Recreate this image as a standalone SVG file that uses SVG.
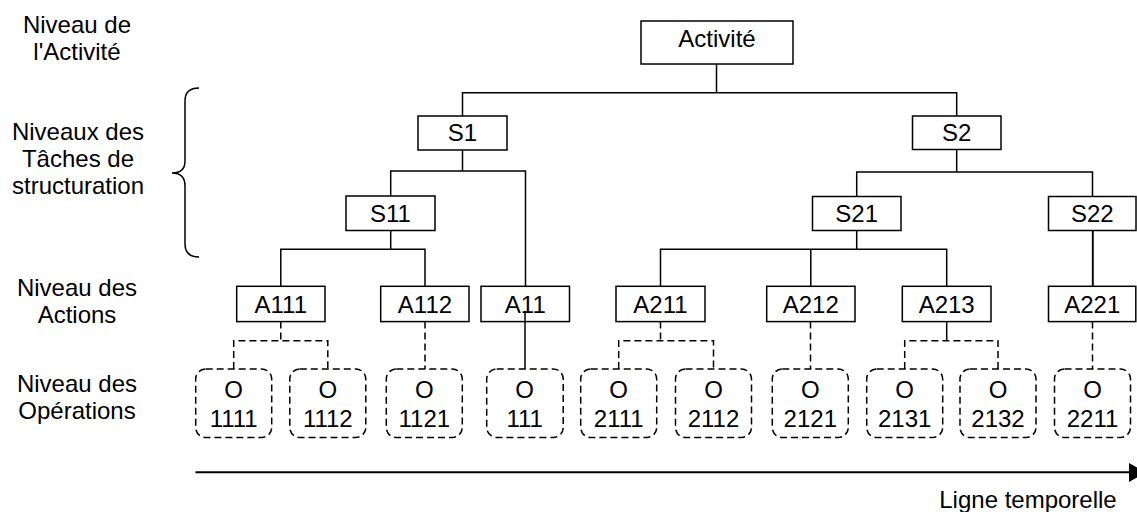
<svg xmlns="http://www.w3.org/2000/svg" width="1137" height="512" viewBox="0 0 1137 512">
<style>
text{font-family:"Liberation Sans",Arial,sans-serif;font-size:24px;fill:#000;text-anchor:middle}
.box{fill:#fff;stroke:#000;stroke-width:1.5}
.op{fill:#fff;stroke:#000;stroke-width:1.5;stroke-dasharray:7 4}
.ln{fill:none;stroke:#000;stroke-width:1.5}
.dl{fill:none;stroke:#000;stroke-width:1.5;stroke-dasharray:7 4}
</style>
<rect width="1137" height="512" fill="#fff"/>
<g id="labels">
<text x="77" y="33">Niveau de</text>
<text x="77" y="60">l'Activité</text>
<text x="78" y="140">Niveaux des</text>
<text x="78" y="167">Tâches de</text>
<text x="78" y="194">structuration</text>
<text x="77" y="296">Niveau des</text>
<text x="77" y="323">Actions</text>
<text x="77" y="392">Niveau des</text>
<text x="77" y="419">Opérations</text>
<text x="1028" y="508">Ligne temporelle</text>
<path class="ln" d="M199,88 Q185,88 185,101 L185,161 Q185,173 172,173 Q185,173 185,186 L185,244 Q185,257 199,257"/>
</g>
<g id="connectors">
<path class="ln" d="M716.5,64 V92.7 M462.5,116 V92.7 H956.7 V116"/>
<path class="ln" d="M462.5,150 V171 M390.7,196 V171 H525.5 V286.3"/>
<path class="ln" d="M956.7,149 V172 M856.7,196.5 V172 H1092.5 V196.5"/>
<path class="ln" d="M390.7,230.5 V249.3 M280.8,286.3 V249.3 H425 V286.3"/>
<path class="ln" d="M856.7,230.5 V249.3 M660.5,286.3 V249.3 H946.7 V286.3 M810.8,249.3 V286.3"/>
<path class="ln" style="stroke-width:1.9" d="M1092.8,230.5 V286.3"/>
<path class="dl" d="M280.8,321.6 V340.7 M233.7,369 V340.7 H327.8 V369"/>
<path class="dl" d="M425,321.6 V369"/>
<path class="ln" d="M525,311 V369"/>
<path class="dl" d="M660.5,321.6 V340.7 M618.7,369 V340.7 H713.5 V369"/>
<path class="dl" d="M810.5,321.6 V369"/>
<path class="ln" d="M946.7,321.6 V340.7"/>
<path class="dl" d="M904.7,369 V340.7 H998 V369"/>
<path class="dl" d="M1092.5,321.6 V369"/>
<path class="ln" style="stroke-width:1.9" d="M195.5,472.3 H1130"/>
<polygon points="1129,463 1146,472.3 1129,482" fill="#000"/>
</g>
<g id="n-activite"><rect class="box" x="641" y="21" width="152" height="43"/><text x="717" y="47">Activité</text></g>
<g id="n-s1"><rect class="box" x="418" y="116" width="89" height="34"/><text x="462.5" y="141">S1</text></g>
<g id="n-s2"><rect class="box" x="912.5" y="116" width="88.5" height="33.5"/><text x="956.7" y="141">S2</text></g>
<g id="n-s11"><rect class="box" x="346" y="196" width="89" height="34.5"/><text x="390.5" y="222">S11</text></g>
<g id="n-s21"><rect class="box" x="812.5" y="196.5" width="88.5" height="34"/><text x="856.7" y="222">S21</text></g>
<g id="n-s22"><rect class="box" x="1048.5" y="196.5" width="87.5" height="34"/><text x="1092.3" y="222">S22</text></g>
<g id="n-a111"><rect class="box" x="236.7" y="286.3" width="88.3" height="35.3"/><text x="280.8" y="313">A111</text></g>
<g id="n-a112"><rect class="box" x="380.7" y="286.3" width="88.3" height="35.3"/><text x="425" y="313">A112</text></g>
<g id="n-a11"><rect class="box" x="481" y="286.3" width="88.5" height="35.3"/><text x="525.3" y="313">A11</text><path class="ln" d="M525,311 V321.6"/></g>
<g id="n-a211"><rect class="box" x="616" y="286.3" width="89" height="35.3"/><text x="660.5" y="313">A211</text></g>
<g id="n-a212"><rect class="box" x="766.7" y="286.3" width="88.3" height="35.3"/><text x="810.8" y="313">A212</text></g>
<g id="n-a213"><rect class="box" x="902.3" y="286.3" width="88.7" height="35.3"/><text x="946.7" y="313">A213</text></g>
<g id="n-a221"><rect class="box" x="1048.5" y="286.3" width="87.3" height="35.3"/><text x="1092.3" y="313">A221</text></g>
<g id="n-o1111"><rect class="op" x="195.7" y="369" width="76" height="68.5" rx="10"/><text x="233.7" y="398">O</text><text x="233.7" y="427">1111</text></g>
<g id="n-o1112"><rect class="op" x="289.8" y="369" width="76" height="68.5" rx="10"/><text x="327.8" y="398">O</text><text x="327.8" y="427">1112</text></g>
<g id="n-o1121"><rect class="op" x="386.3" y="369" width="76" height="68.5" rx="10"/><text x="424.3" y="398">O</text><text x="424.3" y="427">1121</text></g>
<g id="n-o111"><rect class="op" x="486.7" y="369" width="76.5" height="68.5" rx="10"/><text x="524.7" y="398">O</text><text x="524.7" y="427">111</text></g>
<g id="n-o2111"><rect class="op" x="580.7" y="369" width="76" height="68.5" rx="10"/><text x="618.7" y="398">O</text><text x="618.7" y="427">2111</text></g>
<g id="n-o2112"><rect class="op" x="675.5" y="369" width="76" height="68.5" rx="10"/><text x="713.5" y="398">O</text><text x="713.5" y="427">2112</text></g>
<g id="n-o2121"><rect class="op" x="772.3" y="369" width="76" height="68.5" rx="10"/><text x="810.3" y="398">O</text><text x="810.3" y="427">2121</text></g>
<g id="n-o2131"><rect class="op" x="866.7" y="369" width="76" height="68.5" rx="10"/><text x="904.7" y="398">O</text><text x="904.7" y="427">2131</text></g>
<g id="n-o2132"><rect class="op" x="960" y="369" width="76" height="68.5" rx="10"/><text x="998" y="398">O</text><text x="998" y="427">2132</text></g>
<g id="n-o2211"><rect class="op" x="1054.5" y="369" width="76" height="68.5" rx="10"/><text x="1092.5" y="398">O</text><text x="1092.5" y="427">2211</text></g>
</svg>
